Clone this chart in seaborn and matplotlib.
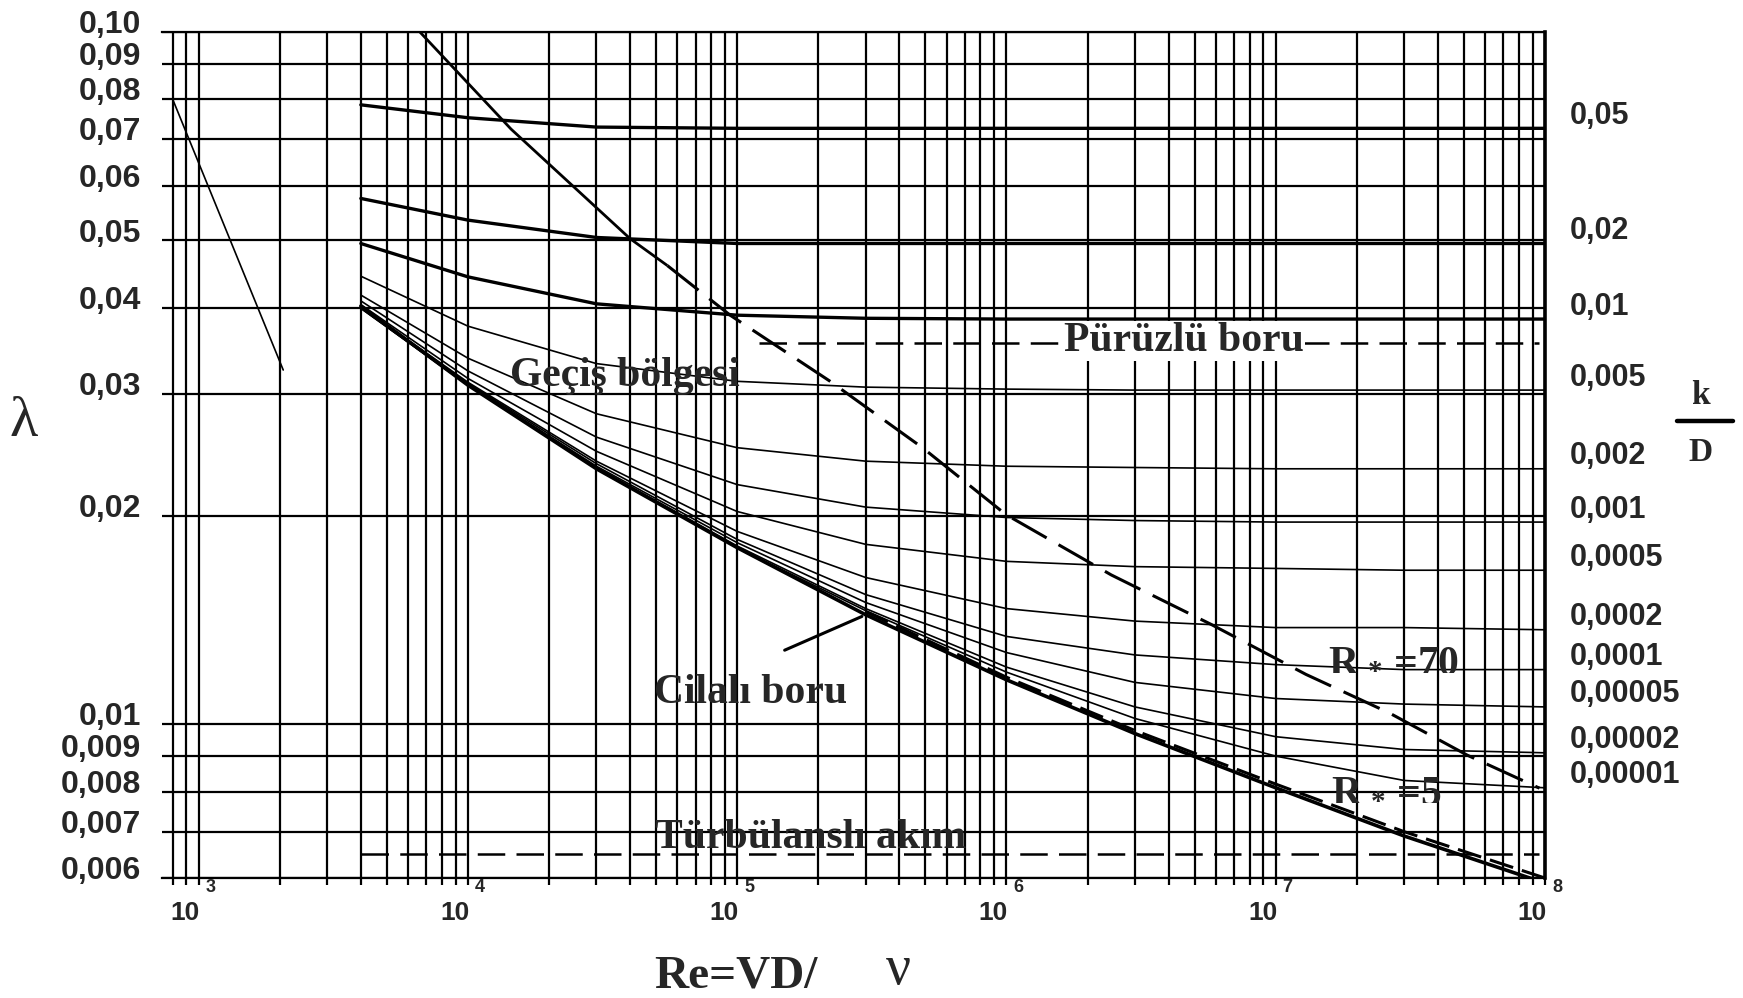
import numpy as np
import pandas as pd
import matplotlib
matplotlib.use("Agg")
import matplotlib.pyplot as plt
import seaborn as sns
from matplotlib.ticker import FixedLocator, NullLocator, LogLocator, NullFormatter
from matplotlib.lines import Line2D

re_pts = [4e3, 1e4, 3e4, 1e5, 3e5, 1e6, 3e6, 1e7, 3e7, 1e8]

# lambda values of each k/D curve
lam_kd_05 = [0.0785, 0.0752, 0.0729, 0.0726, 0.0726, 0.0726, 0.0726, 0.0726, 0.0726, 0.0726]
lam_kd_02 = [0.0575, 0.0535, 0.0505, 0.0495, 0.0495, 0.0495, 0.0495, 0.0495, 0.0495, 0.0495]
lam_kd_01 = [0.0495, 0.0443, 0.0405, 0.0390, 0.0386, 0.0385, 0.0385, 0.0385, 0.0385, 0.0385]
lam_kd_005 = [0.0444, 0.0376, 0.0332, 0.0313, 0.0307, 0.0305, 0.0304, 0.0304, 0.0304, 0.0304]
lam_kd_002 = [0.0417, 0.0338, 0.0281, 0.0251, 0.0240, 0.0236, 0.0235, 0.0234, 0.0234, 0.0234]
lam_kd_001 = [0.0409, 0.0324, 0.0260, 0.0222, 0.0206, 0.0199, 0.0197, 0.0196, 0.0196, 0.0196]
lam_kd_0005 = [0.0404, 0.0316, 0.0248, 0.0203, 0.0182, 0.0172, 0.0169, 0.0168, 0.0167, 0.0167]
lam_kd_0002 = [0.0401, 0.0312, 0.0240, 0.0190, 0.0163, 0.0147, 0.0141, 0.0138, 0.0138, 0.0137]
lam_kd_0001 = [0.0400, 0.0311, 0.0238, 0.0185, 0.0154, 0.0134, 0.0126, 0.0122, 0.0120, 0.0120]
lam_kd_00005 = [0.0400, 0.0310, 0.0236, 0.0183, 0.0150, 0.0127, 0.0115, 0.0109, 0.0107, 0.0106]
lam_kd_00002 = [0.0399, 0.0309, 0.0235, 0.0181, 0.0147, 0.0121, 0.0106, 0.0096, 0.0092, 0.0091]
lam_kd_00001 = [0.0399, 0.0309, 0.0234, 0.0180, 0.0146, 0.0119, 0.0102, 0.0090, 0.0083, 0.0081]
lam_smooth = [0.0402, 0.0309, 0.0234, 0.0180, 0.0144, 0.0116, 0.0097, 0.0081, 0.0069, 0.0059]

thick_labels = ["0,05", "0,02", "0,01"]
thin_labels = ["0,005", "0,002", "0,001", "0,0005", "0,0002", "0,0001",
               "0,00005", "0,00002", "0,00001"]

# laminar line
lam_re = [800, 2060]
lam_lam = [0.080, 0.0325]

# boundary of the rough zone (solid part first, then dashed)
bound_re = [6630, 14460, 40000, 55000, 94100, 221400, 487500, 994300,
            2.45e6, 5.77e6, 1.295e7, 2.64e7, 5.14e7, 9.54e7]
bound_lam = [0.100, 0.0724, 0.0503, 0.0460, 0.0390, 0.0313, 0.0251, 0.0201,
             0.01644, 0.01394, 0.01181, 0.01039, 0.00903, 0.00809]
bound_split = 3

# R*=5 line along the smooth pipe curve
r5_re = [3e5, 1e6, 3e6, 1e7, 3e7, 1e8]
r5_lam = [0.01455, 0.0117, 0.0098, 0.0082, 0.0070, 0.0060]

# dashed region lines
rough_re = [1.2e5, 9.5e7]
rough_lam = [0.0355, 0.0355]
turb_re = [4e3, 9.5e7]
turb_lam = [0.00649, 0.00649]

y_tick_vals = [0.10, 0.09, 0.08, 0.07, 0.06, 0.05, 0.04, 0.03, 0.02,
               0.01, 0.009, 0.008, 0.007, 0.006]
y_tick_text = ["0,10", "0,09", "0,08", "0,07", "0,06", "0,05", "0,04", "0,03", "0,02",
               "0,01", "0,009", "0,008", "0,007", "0,006"]
x_exps = [3, 4, 5, 6, 7, 8]

sns.set_style("white")
plt.rcParams["font.family"] = ["Liberation Sans", "DejaVu Sans"]
plt.rcParams["mathtext.fontset"] = "custom"
plt.rcParams["mathtext.rm"] = "Liberation Serif:bold"
plt.rcParams["mathtext.it"] = "Liberation Serif:bold"
plt.rcParams["mathtext.bf"] = "Liberation Serif:bold"

SERIF = ["Liberation Serif", "DejaVu Serif"]
SANS = ["Liberation Sans", "DejaVu Sans"]

fig = plt.figure(figsize=(17.43, 9.98), dpi=100)
ax = fig.add_axes([0.0929, 0.1202, 0.7935, 0.8477])
ax.set_xscale("log")
ax.set_yscale("log")

thick_df = pd.DataFrame([
    {"curve": n, "Re": r, "lam": l}
    for n, lams in zip(thick_labels, [lam_kd_05, lam_kd_02, lam_kd_01])
    for r, l in zip(re_pts, lams)
])
thin_lists = [lam_kd_005, lam_kd_002, lam_kd_001, lam_kd_0005, lam_kd_0002,
              lam_kd_0001, lam_kd_00005, lam_kd_00002, lam_kd_00001]
thin_df = pd.DataFrame([
    {"curve": n, "Re": r, "lam": l}
    for n, lams in zip(thin_labels, thin_lists)
    for r, l in zip(re_pts, lams)
])

sns.lineplot(data=thin_df, x="Re", y="lam", units="curve", estimator=None,
             color="black", linewidth=1.2, sort=False, ax=ax, legend=False)
sns.lineplot(data=thick_df, x="Re", y="lam", units="curve", estimator=None,
             color="black", linewidth=2.4, sort=False, ax=ax, legend=False)
sns.lineplot(x=re_pts, y=lam_smooth, color="black", linewidth=2.6, sort=False,
             ax=ax, legend=False)
sns.lineplot(x=lam_re, y=lam_lam, color="black", linewidth=1.2, ax=ax, legend=False)

# rough-zone boundary
ax.plot(bound_re[:bound_split + 1], bound_lam[:bound_split + 1],
        color="black", lw=2.0, solid_capstyle="butt")
ax.plot(bound_re[bound_split:], bound_lam[bound_split:],
        color="black", lw=2.2, linestyle=(0, (13, 4.5)))
ax.plot(r5_re, r5_lam, color="black", lw=2.2, linestyle=(0, (8, 3)))

# region lines
ax.plot(rough_re, rough_lam, color="black", lw=1.8, linestyle=(0, (11, 4.5)))
ax.plot(turb_re, turb_lam, color="black", lw=1.8, linestyle=(0, (11, 4.5)))

ax.set_xlim(730, 1e8)
ax.set_ylim(0.006, 0.1)

# grid
ax.xaxis.set_major_locator(LogLocator(base=10, numticks=20))
ax.xaxis.set_minor_locator(LogLocator(base=10, subs=np.arange(2, 10), numticks=200))
ax.xaxis.set_major_formatter(NullFormatter())
ax.xaxis.set_minor_formatter(NullFormatter())
ax.yaxis.set_major_locator(FixedLocator(y_tick_vals))
ax.yaxis.set_minor_locator(NullLocator())
ax.yaxis.set_major_formatter(NullFormatter())
ax.grid(True, which="both", axis="x", color="black", lw=1.6)
ax.grid(True, which="major", axis="y", color="black", lw=1.6)
ax.set_axisbelow(True)
ax.tick_params(axis="x", which="both", direction="out", length=5, width=1.6,
               color="black", bottom=True, top=False)
ax.tick_params(axis="y", which="both", length=0)
ax.set_xlabel("")
ax.set_ylabel("")

ax.spines["left"].set_visible(False)
ax.spines["right"].set_linewidth(2.6)
ax.spines["top"].set_linewidth(1.6)
ax.spines["bottom"].set_linewidth(1.6)
for s in ax.spines.values():
    s.set_color("black")

# left lambda labels
for v, t in zip(y_tick_vals, y_tick_text):
    ax.annotate(t, xy=(0, v), xycoords=("axes fraction", "data"),
                xytext=(-15, 5), textcoords="offset points",
                ha="right", va="center", fontsize=23, fontweight="bold",
                family=SANS, annotation_clip=False)

# right k/D labels at the end of each curve
all_labels = thick_labels + thin_labels
all_ends = [lam_kd_05[-1], lam_kd_02[-1], lam_kd_01[-1]] + [l[-1] for l in thin_lists]
for t, v in zip(all_labels, all_ends):
    ax.annotate(t, xy=(1, v), xycoords=("axes fraction", "data"),
                xytext=(18, 9), textcoords="offset points",
                ha="left", va="center", fontsize=22, fontweight="bold",
                family=SANS, annotation_clip=False)

# bottom tick labels: "10" left of the line, exponent right of it
for e in x_exps:
    ax.annotate("10", xy=(10.0 ** e, 0), xycoords=("data", "axes fraction"),
                xytext=(1, -25), textcoords="offset points",
                ha="right", va="center", fontsize=19, fontweight="bold",
                family=SANS, annotation_clip=False)
    ax.annotate(str(e), xy=(10.0 ** e, 0), xycoords=("data", "axes fraction"),
                xytext=(5, -7), textcoords="offset points",
                ha="left", va="center", fontsize=13, fontweight="bold",
                family=SANS, annotation_clip=False)

# region texts
ax.text(38100, 0.0319, "Geçiş bölgesi", ha="center", va="center",
        fontsize=30, fontweight="bold", family=SERIF)
ax.text(4.55e6, 0.0358, "Pürüzlü boru", ha="center", va="center",
        fontsize=30, fontweight="bold", family=SERIF,
        bbox=dict(facecolor="white", edgecolor="none", pad=1))
ax.text(1.12e5, 0.0111, "Cilalı boru", ha="center", va="center",
        fontsize=30, fontweight="bold", family=SERIF)
ax.annotate("", xy=(r5_re[0], lam_smooth[4]), xytext=(1.5e5, 0.0128),
            arrowprops=dict(arrowstyle="-", lw=2.2, color="black",
                            shrinkA=0, shrinkB=3))
ax.text(1.88e5, 0.00686, "Türbülanslı akım", ha="center", va="center",
        fontsize=30, fontweight="bold", family=SERIF)
ax.text(2.74e7, 0.0124, r"R$_{\,*}\,$=70", ha="center", va="center",
        fontsize=30, fontweight="bold", family=SERIF)
ax.text(2.57e7, 0.00803, r"R$_{\,*}\,$=5", ha="center", va="center",
        fontsize=30, fontweight="bold", family=SERIF)

# axis titles
fig.text(0.0138, 0.577, "λ", ha="center", va="center", fontsize=42, family=SERIF)
fig.text(0.4223, 0.022, "Re=VD/", ha="center", va="center", fontsize=34,
         fontweight="bold", family=SERIF)
fig.text(0.5152, 0.028, "ν", ha="center", va="center", fontsize=40,
         family=SERIF)
fig.text(0.9756, 0.604, "k", ha="center", va="center", fontsize=24,
         fontweight="bold", family=SERIF)
fig.text(0.9756, 0.547, "D", ha="center", va="center", fontsize=24,
         fontweight="bold", family=SERIF)
fig.add_artist(Line2D([0.962, 0.994], [0.578, 0.578], color="black", lw=3.2,
                      transform=fig.transFigure))

fig.savefig("out.png", dpi=100)
